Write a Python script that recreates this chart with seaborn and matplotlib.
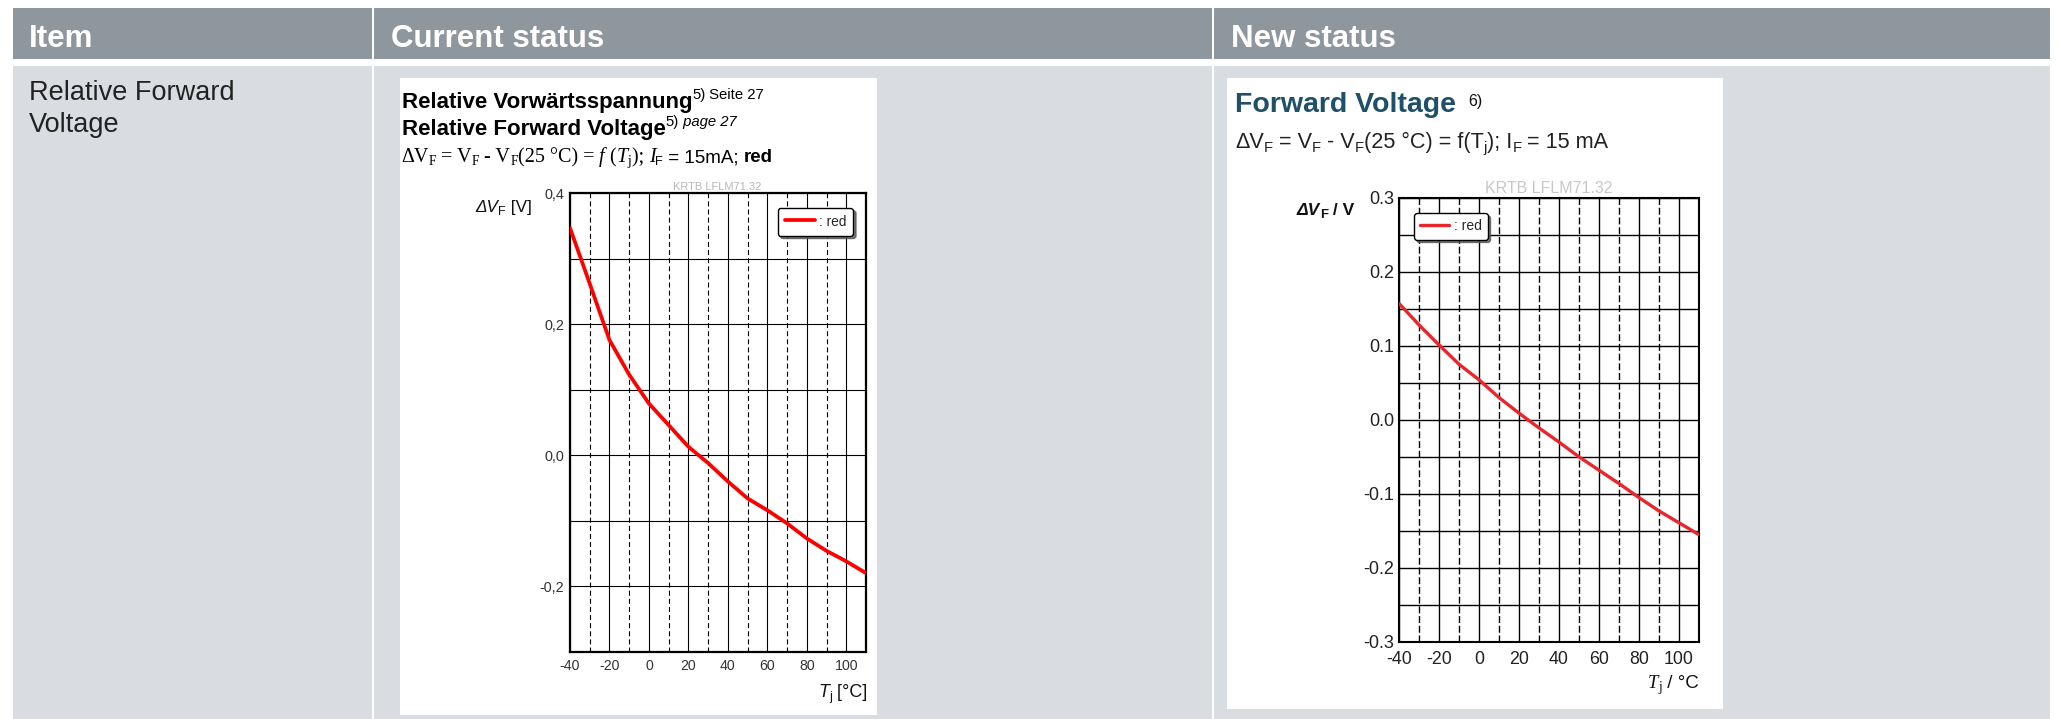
import matplotlib
matplotlib.use("Agg")
import matplotlib.pyplot as plt
from matplotlib.patches import Rectangle
from matplotlib.ticker import FixedLocator, FixedFormatter, NullFormatter
import seaborn as sns

# ---------------- data ----------------
column_headers = ["Item", "Current status", "New status"]
item_lines = ["Relative Forward", "Voltage"]

tj_current = [-40, -30, -20, -10, 0, 10, 20, 30, 40, 50, 60, 70, 80, 90, 100, 110]
dvf_current = [0.347, 0.262, 0.176, 0.123, 0.079, 0.046, 0.013, -0.012, -0.040,
               -0.066, -0.084, -0.104, -0.127, -0.146, -0.162, -0.180]

tj_new = [-40, -30, -20, -10, 0, 10, 20, 30, 40, 50, 60, 70, 80, 90, 100, 110]
dvf_new = [0.157, 0.128, 0.101, 0.075, 0.054, 0.030, 0.009, -0.011, -0.030,
           -0.050, -0.068, -0.086, -0.105, -0.123, -0.139, -0.155]

x_ticks = [-40, -20, 0, 20, 40, 60, 80, 100]
x_ticklabels = ["-40", "-20", "0", "20", "40", "60", "80", "100"]
x_minor = [-30, -10, 10, 30, 50, 70, 90]

cur_yticks = [-0.2, 0.0, 0.2, 0.4]
cur_yticklabels = ["-0,2", "0,0", "0,2", "0,4"]
cur_yminor = [-0.3, -0.1, 0.1, 0.3]

new_yticks = [-0.3, -0.2, -0.1, 0.0, 0.1, 0.2, 0.3]
new_yticklabels = ["-0.3", "-0.2", "-0.1", "0.0", "0.1", "0.2", "0.3"]
new_yminor = [-0.25, -0.15, -0.05, 0.05, 0.15, 0.25]

series_label = ": red"
diagram_code = "KRTB LFLM71.32"

# ---------------- style ----------------
sns.set_style("white")
plt.rcParams["font.family"] = ["Liberation Sans", "DejaVu Sans"]

SANS = "Liberation Sans"
SERIF = "Liberation Serif"
HEADER = "#8f979e"
BODY = "#d9dce0"

W, H = 2058, 719
fig = plt.figure(figsize=(W / 100, H / 100), dpi=100)
fig.patch.set_facecolor("white")
renderer = fig.canvas.get_renderer()


def fx(x):
    return x / W


def fy(y):
    return 1 - y / H


def rect(x0, y0, x1, y1, color, z):
    fig.patches.append(Rectangle((fx(x0), fy(y1)), (x1 - x0) / W, (y1 - y0) / H,
                                 transform=fig.transFigure, facecolor=color,
                                 edgecolor="none", zorder=z))


def chain(x, y, pieces, **base):
    """Write text pieces one after another on a common baseline (pixel coords)."""
    for s, extra in pieces:
        opts = dict(base)
        opts.update(extra)
        dy = opts.pop("dy", 0)
        x += opts.pop("dx", 0)
        t = fig.text(fx(x), fy(y + dy), s, ha="left", va="baseline", **opts)
        x = t.get_window_extent(renderer).x1
    return x


# ---------------- table frame ----------------
columns = [(12.7, 371.7), (374.3, 1211.7), (1214.3, 2050)]
for c0, c1 in columns:
    rect(c0, 8, c1, 59.3, HEADER, -3)
    rect(c0, 66, c1, 719, BODY, -3)

for (c0, _), name in zip(columns, column_headers):
    fig.text(fx(c0 + 16.5), fy(46.7), name, ha="left", va="baseline",
             family=SANS, weight="bold", size=22.5, color="white")

for i, line in enumerate(item_lines):
    fig.text(fx(29), fy(100 + i * 31.7), line, ha="left", va="baseline",
             family=SANS, size=19.5, color="#222222")

# white sheets holding the diagrams
rect(400, 78, 877, 715, "white", -2)
rect(1227, 78, 1723, 709, "white", -2)

# ---------------- current status diagram ----------------
sup = {"size": 10.7, "weight": "normal", "dy": -9}
chain(401.5, 108.3, [("Relative Vorwärtsspannung", {}), ("5)", sup), (" Seite 27", sup)],
      family=SANS, weight="bold", size=16, color="black")
chain(401.5, 135, [("Relative Forward Voltage", {}), ("5)", sup),
                   (" page 27", dict(sup, style="italic"))],
      family=SANS, weight="bold", size=16, color="black")

sub_serif = {"size": 9.8, "dy": 3}
chain(401.5, 162.3, [
    ("ΔV", {}), ("F", sub_serif), (" = V", {}), ("F", sub_serif), (" - V", {}),
    ("F", sub_serif), ("(25 °C) = ", {}), ("f", {"style": "italic"}), (" (", {}),
    ("T", {"style": "italic"}), ("j", sub_serif), ("); ", {}), ("I", {"style": "italic"}),
    ("F", {"family": SANS, "size": 9.2, "dy": 3}),
    (" = 15mA; ", {"family": SANS, "size": 13.5}),
    ("red", {"family": SANS, "size": 13.5, "weight": "bold"}),
], family=SERIF, size=14.5, color="black")

fig.text(fx(717.5), fy(190), diagram_code, ha="center", va="baseline",
         family=SANS, size=8, color="#b8b8b8")

chain(475, 211.7, [("ΔV", {"style": "italic"}), ("F", {"size": 9, "dy": 3}), (" [V]", {})],
      family=SANS, size=12.3, color="#111111")
chain(818, 696.7, [("T", {"style": "italic"}), ("j", {"size": 9, "dy": 3}), (" [°C]", {})],
      family=SANS, size=13, color="#111111")

ax1 = fig.add_axes([fx(570), fy(651.7), 296 / W, (651.7 - 193.3) / H])
ax1.set_facecolor("white")
sns.lineplot(x=tj_current, y=dvf_current, ax=ax1, color="#ff0000", lw=2.7,
             label=series_label, zorder=3)
ax1.set_xlim(-40, 110)
ax1.set_ylim(-0.3, 0.4)
ax1.xaxis.set_major_locator(FixedLocator(x_ticks))
ax1.xaxis.set_major_formatter(FixedFormatter(x_ticklabels))
ax1.xaxis.set_minor_locator(FixedLocator(x_minor))
ax1.yaxis.set_major_locator(FixedLocator(cur_yticks))
ax1.yaxis.set_major_formatter(FixedFormatter(cur_yticklabels))
ax1.yaxis.set_minor_locator(FixedLocator(cur_yminor))
ax1.xaxis.set_minor_formatter(NullFormatter())
ax1.yaxis.set_minor_formatter(NullFormatter())
ax1.set_axisbelow(True)
ax1.grid(which="major", color="black", lw=0.8, ls="-")
ax1.grid(which="minor", axis="y", color="black", lw=0.8, ls="-")
ax1.grid(which="minor", axis="x", color="black", lw=0.8, ls=(0, (4.5, 2.8)))
ax1.tick_params(which="both", length=0)
ax1.tick_params(axis="y", pad=4.3, labelsize=10.4, labelcolor="#333333")
ax1.tick_params(axis="x", pad=5.5, labelsize=10.2, labelcolor="#333333")
for sp in ax1.spines.values():
    sp.set_visible(True)
    sp.set_color("black")
    sp.set_linewidth(1.6)
ax1.set_xlabel("")
ax1.set_ylabel("")
leg1 = ax1.legend(loc="upper left", bbox_to_anchor=(fx(777.7), fy(208)),
                  bbox_transform=fig.transFigure, borderaxespad=0, frameon=True,
                  shadow={"color": "#555555", "alpha": 0.8}, fancybox=True,
                  handlelength=2.2, handleheight=1.0, handletextpad=0.3, borderpad=0.5,
                  prop={"family": SANS, "size": 9.9})
leg1.get_frame().set_edgecolor("black")
leg1.get_frame().set_linewidth(1.0)
leg1.get_frame().set_alpha(1)

# ---------------- new status diagram ----------------
chain(1235, 111.7, [("Forward Voltage", {}),
                    ("6)", {"size": 11.5, "weight": "normal", "dy": -6, "dx": 12,
                            "color": "#111111"})],
      family=SANS, weight="bold", size=20.5, color="#1f5069")

sub_sans = {"size": 10.7, "dy": 3.5}
chain(1235, 148.3, [
    ("ΔV", {}), ("F", sub_sans), (" = V", {}), ("F", sub_sans), (" - V", {}),
    ("F", sub_sans), ("(25 °C) = f(T", {}), ("j", sub_sans), ("); I", {}),
    ("F", sub_sans), (" = 15 mA", {}),
], family=SANS, size=15.6, color="#222222")

fig.text(fx(1548.3), fy(193.3), diagram_code, ha="center", va="baseline",
         family=SANS, size=11.5, color="#c8c8c8")

chain(1296.7, 215, [("ΔV", {"style": "italic"}), ("F", {"size": 9.5, "dy": 3}), (" / V", {})],
      family=SANS, weight="bold", size=12.5, color="#111111")
chain(1648, 688.3, [("T", {"style": "italic", "family": SERIF}),
                    ("j", {"family": SERIF, "size": 10, "dy": 3}), (" / °C", {})],
      family=SANS, size=13.5, color="#111111")

ax2 = fig.add_axes([fx(1399.3), fy(641.7), (1698.7 - 1399.3) / W, (641.7 - 198) / H])
ax2.set_facecolor("white")
sns.lineplot(x=tj_new, y=dvf_new, ax=ax2, color="#e8262b", lw=2.4,
             label=series_label, zorder=3)
ax2.set_xlim(-40, 110)
ax2.set_ylim(-0.3, 0.3)
ax2.xaxis.set_major_locator(FixedLocator(x_ticks))
ax2.xaxis.set_major_formatter(FixedFormatter(x_ticklabels))
ax2.xaxis.set_minor_locator(FixedLocator(x_minor))
ax2.yaxis.set_major_locator(FixedLocator(new_yticks))
ax2.yaxis.set_major_formatter(FixedFormatter(new_yticklabels))
ax2.yaxis.set_minor_locator(FixedLocator(new_yminor))
ax2.xaxis.set_minor_formatter(NullFormatter())
ax2.yaxis.set_minor_formatter(NullFormatter())
ax2.set_axisbelow(True)
ax2.grid(which="major", color="black", lw=1.0, ls="-")
ax2.grid(which="minor", axis="y", color="black", lw=1.0, ls="-")
ax2.grid(which="minor", axis="x", color="black", lw=1.0, ls=(0, (5.0, 2.0)))
ax2.tick_params(which="both", length=0)
ax2.tick_params(axis="y", pad=3.6, labelsize=13, labelcolor="#222222")
ax2.tick_params(axis="x", pad=6.8, labelsize=12.8, labelcolor="#222222")
for sp in ax2.spines.values():
    sp.set_visible(True)
    sp.set_color("black")
    sp.set_linewidth(1.5)
ax2.set_xlabel("")
ax2.set_ylabel("")
leg2 = ax2.legend(loc="upper left", bbox_to_anchor=(fx(1414), fy(213)),
                  bbox_transform=fig.transFigure, borderaxespad=0, frameon=True,
                  shadow={"color": "#555555", "alpha": 0.8}, fancybox=True,
                  handlelength=2.1, handleheight=1.05, handletextpad=0.3, borderpad=0.45,
                  prop={"family": SANS, "size": 10})
leg2.get_frame().set_edgecolor("black")
leg2.get_frame().set_linewidth(1.0)
leg2.get_frame().set_alpha(1)

fig.savefig("out.png", dpi=100, facecolor="white")
